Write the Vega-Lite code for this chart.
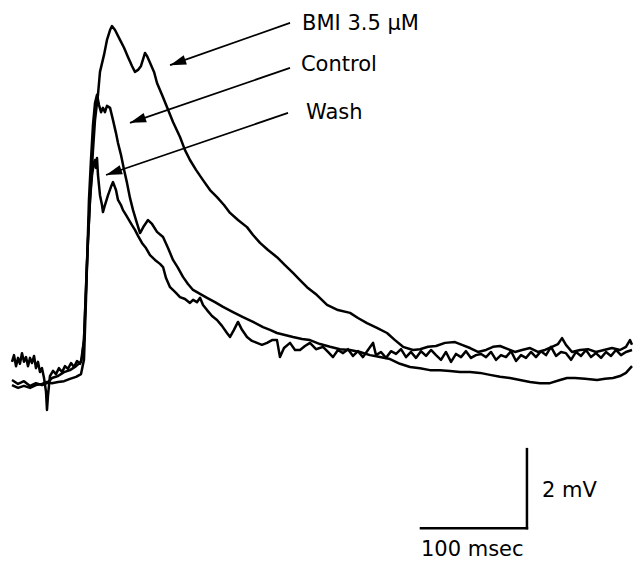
{
  "$schema": "https://vega.github.io/schema/vega-lite/v6.json",
  "width": 634,
  "height": 561,
  "padding": 0,
  "autosize": {"type": "none"},
  "config": {"view": {"stroke": null}},
  "datasets": {
    "bmi": [
      [0,0],[5.7,-0.10],[11.3,-0.03],[17.0,-0.15],[22.6,-0.08],[28.3,-0.13],[33.0,-0.08],[37.7,0.05],[43.4,0.10],[49.1,0.20],[54.7,0.25],[60.4,0.35],[65.1,0.46],[67.9,1.01],[70.8,3.04],[73.6,4.56],[76.4,5.82],[78.3,6.58],[81.1,7.22],[83.0,7.80],[86.8,8.23],[89.6,8.61],[92.5,8.86],[94.3,8.96],[97.2,8.86],[101.9,8.61],[105.7,8.41],[109.4,8.18],[113.2,7.95],[116.0,7.80],[118.9,7.85],[121.7,7.95],[125.5,8.28],[127.4,8.20],[130.2,8.03],[134.0,7.80],[136.8,7.52],[141.5,7.22],[146.2,6.91],[151.9,6.53],[158.5,6.15],[163.2,5.82],[167.9,5.57],[173.6,5.32],[180.2,5.06],[186.8,4.81],[193.4,4.63],[200.0,4.43],[205.7,4.23],[213.2,4.05],[221.7,3.87],[227.4,3.67],[234.0,3.47],[241.5,3.29],[250.0,3.11],[257.5,2.91],[265.1,2.71],[271.7,2.53],[278.3,2.35],[287.7,2.15],[297.2,1.90],[307.5,1.77],[318.9,1.70],[326.4,1.57],[334.9,1.44],[344.3,1.32],[353.8,1.19],[361.3,1.01],[368.9,0.84],[378.3,0.76],[384.9,0.78],[392.5,0.84],[400.0,0.86],[408.5,0.94],[417.9,0.96],[424.5,0.89],[432.1,0.81],[439.6,0.71],[447.2,0.76],[453.8,0.84],[460.4,0.86],[467.9,0.78],[474.5,0.71],[481.1,0.76],[488.7,0.81],[496.2,0.71],[502.8,0.76],[509.4,0.84],[515.1,0.91],[518.9,1.06],[522.6,0.89],[528.3,0.71],[535.9,0.76],[543.4,0.78],[550.9,0.71],[558.5,0.76],[566.0,0.81],[573.6,0.76],[579.2,0.84],[583.0,1.01],[584.9,0.89]
    ],
    "control": [
      [0,-0.13],[5.7,-0.20],[11.3,-0.15],[17.0,-0.20],[22.6,-0.13],[28.3,-0.10],[33.0,-0.05],[37.7,-0.08],[43.4,-0.05],[49.1,-0.03],[54.7,0.03],[60.4,0.08],[65.1,0.15],[67.9,0.51],[69.8,2.03],[72.6,4.56],[74.5,5.57],[76.4,6.46],[78.3,7.01],[80.2,7.22],[82.1,6.96],[84.0,6.78],[85.8,6.89],[87.7,6.78],[89.6,6.94],[92.5,6.89],[95.3,6.58],[98.1,6.25],[100.0,6.00],[102.8,5.70],[105.7,5.32],[108.5,4.99],[111.3,4.61],[114.2,4.30],[117.0,4.05],[120.8,3.72],[124.5,3.90],[128.3,4.05],[132.1,3.95],[136.8,3.75],[142.5,3.62],[147.2,3.34],[151.9,3.04],[156.6,2.84],[161.3,2.61],[166.0,2.43],[170.8,2.28],[177.4,2.18],[184.0,2.08],[191.5,1.97],[199.1,1.85],[208.5,1.72],[217.9,1.59],[227.4,1.47],[236.8,1.34],[243.4,1.27],[250.0,1.19],[257.5,1.14],[265.1,1.09],[273.6,1.04],[281.1,1.01],[290.6,0.91],[300.0,0.84],[309.4,0.78],[318.9,0.76],[328.3,0.71],[337.7,0.63],[347.2,0.58],[356.6,0.53],[366.0,0.41],[375.5,0.33],[384.9,0.30],[394.3,0.25],[403.8,0.25],[413.2,0.23],[422.6,0.20],[432.1,0.20],[441.5,0.18],[450.9,0.13],[460.4,0.08],[469.8,0.05],[479.2,0],[488.7,-0.05],[498.1,-0.08],[507.5,-0.08],[517.0,0],[523.6,0.05],[531.1,0.05],[540.6,0.03],[551.9,0],[559.4,0.03],[567.0,0.05],[573.6,0.10],[579.2,0.18],[584.9,0.35]
    ],
    "wash": [
      [0,0.46],[1.9,0.63],[3.8,0.35],[5.7,0.56],[7.5,0.41],[9.4,0.68],[11.3,0.46],[13.2,0.58],[15.1,0.35],[17.0,0.56],[18.9,0.43],[20.8,0.61],[22.6,0.30],[24.5,0.46],[26.4,0.20],[28.3,0.30],[30.2,0.05],[32.1,-0.30],[33.0,-0.76],[34.0,-0.38],[35.8,0.10],[38.7,0.23],[41.5,0.15],[44.3,0.30],[47.2,0.20],[50.0,0.35],[52.8,0.28],[55.7,0.43],[58.5,0.33],[61.3,0.48],[64.2,0.41],[66.0,0.56],[67.9,1.01],[69.8,2.28],[71.7,3.54],[73.6,4.56],[75.5,5.19],[77.4,5.52],[78.3,5.57],[79.2,5.37],[80.2,5.62],[81.1,5.19],[83.0,4.68],[84.9,4.43],[85.8,4.25],[87.7,4.43],[90.6,4.68],[93.4,4.89],[95.3,5.01],[98.1,4.81],[100.0,4.56],[102.8,4.43],[104.7,4.30],[107.5,4.18],[110.4,4.05],[113.2,3.92],[116.0,3.80],[118.9,3.65],[122.6,3.47],[126.4,3.34],[130.2,3.16],[134.9,3.04],[139.6,2.94],[142.5,2.86],[145.3,2.58],[149.1,2.35],[153.8,2.23],[158.5,2.10],[163.2,2.05],[167.9,1.95],[170.8,2.03],[174.5,1.97],[177.4,2.08],[180.2,1.90],[184.0,1.77],[188.7,1.62],[193.4,1.52],[198.1,1.37],[202.8,1.19],[205.7,1.09],[209.4,1.27],[213.2,1.47],[217.0,1.27],[221.7,1.09],[226.4,0.99],[231.1,0.94],[235.8,0.89],[240.6,0.94],[245.3,1.01],[250.0,1.01],[252.8,0.58],[256.6,0.81],[262.3,0.94],[267.0,0.76],[271.7,0.76],[276.4,0.86],[281.1,0.94],[286.8,0.78],[293.4,0.84],[298.1,0.71],[302.8,0.58],[307.5,0.76],[312.3,0.68],[317.0,0.78],[321.7,0.61],[326.4,0.73],[331.1,0.58],[335.8,0.76],[340.6,0.94],[343.4,0.63],[348.1,0.71],[352.8,0.56],[357.5,0.73],[362.3,0.66],[367.0,0.78],[371.7,0.58],[376.4,0.71],[381.1,0.56],[385.8,0.73],[390.6,0.61],[395.3,0.76],[400.0,0.63],[404.7,0.51],[409.4,0.71],[414.2,0.46],[418.9,0.66],[423.6,0.58],[428.3,0.73],[433.0,0.56],[437.7,0.63],[442.5,0.66],[447.2,0.58],[451.9,0.71],[456.6,0.51],[461.3,0.63],[466.0,0.58],[470.8,0.73],[475.5,0.48],[480.2,0.63],[484.9,0.56],[489.6,0.71],[494.3,0.58],[499.1,0.73],[503.8,0.63],[508.5,0.84],[513.2,0.61],[517.9,0.71],[522.6,0.68],[527.4,0.51],[532.1,0.71],[536.8,0.61],[541.5,0.76],[546.2,0.58],[550.9,0.68],[555.7,0.56],[560.4,0.71],[565.1,0.61],[569.8,0.76],[574.5,0.63],[579.2,0.71],[584.9,0.76]
    ],
    "arrows": [
      {"label": "BMI 3.5 μM", "t1": 262.3, "v1": 9.04, "t2": 149.1, "v2": 7.97, "lt": 273.6, "lv": 8.86},
      {"label": "Control", "t1": 262.3, "v1": 7.90, "t2": 111.3, "v2": 6.51, "lt": 272.6, "lv": 7.81},
      {"label": "Wash", "t1": 260.4, "v1": 6.76, "t2": 88.7, "v2": 5.19, "lt": 277.4, "lv": 6.61}
    ],
    "scalebar": [
      {"t1": 385.8, "t2": 485.8, "v1": -3.75, "v2": -3.75},
      {"t1": 485.8, "t2": 485.8, "v1": -3.75, "v2": -1.75}
    ],
    "scalelabels": [
      {"text": "2 mV", "t": 500.0, "v": -2.95},
      {"text": "100 msec", "t": 385.8, "v": -4.46}
    ]
  },
  "resolve": {"scale": {"x": "shared", "y": "shared"}},
  "layer": [
    {
      "data": {"name": "bmi"},
      "transform": [{"calculate": "datum[0]", "as": "t"}, {"calculate": "datum[1]", "as": "v"}],
      "mark": {"type": "line", "color": "black", "strokeWidth": 2.5, "strokeJoin": "round"},
      "encoding": {
        "x": {"field": "t", "type": "quantitative", "scale": {"domain": [-11.32, 586.79], "nice": false, "zero": false}, "axis": null},
        "y": {"field": "v", "type": "quantitative", "scale": {"domain": [-4.582, 9.620], "nice": false, "zero": false}, "axis": null}
      }
    },
    {
      "data": {"name": "control"},
      "transform": [{"calculate": "datum[0]", "as": "t"}, {"calculate": "datum[1]", "as": "v"}],
      "mark": {"type": "line", "color": "black", "strokeWidth": 2.5, "strokeJoin": "round"},
      "encoding": {
        "x": {"field": "t", "type": "quantitative", "scale": {"domain": [-11.32, 586.79], "nice": false, "zero": false}, "axis": null},
        "y": {"field": "v", "type": "quantitative", "scale": {"domain": [-4.582, 9.620], "nice": false, "zero": false}, "axis": null}
      }
    },
    {
      "data": {"name": "wash"},
      "transform": [{"calculate": "datum[0]", "as": "t"}, {"calculate": "datum[1]", "as": "v"}],
      "mark": {"type": "line", "color": "black", "strokeWidth": 2.5, "strokeJoin": "round"},
      "encoding": {
        "x": {"field": "t", "type": "quantitative", "scale": {"domain": [-11.32, 586.79], "nice": false, "zero": false}, "axis": null},
        "y": {"field": "v", "type": "quantitative", "scale": {"domain": [-4.582, 9.620], "nice": false, "zero": false}, "axis": null}
      }
    },
    {
      "data": {"name": "arrows"},
      "mark": {"type": "rule", "color": "black", "strokeWidth": 1.8},
      "encoding": {
        "x": {"field": "t1", "type": "quantitative", "scale": {"domain": [-11.32, 586.79], "nice": false, "zero": false}, "axis": null},
        "y": {"field": "v1", "type": "quantitative", "scale": {"domain": [-4.582, 9.620], "nice": false, "zero": false}, "axis": null},
        "x2": {"field": "t2"},
        "y2": {"field": "v2"}
      }
    },
    {
      "data": {"name": "arrows"},
      "mark": {"type": "point", "shape": "M0,0L0.6,2L-0.6,2Z", "filled": true, "color": "black", "opacity": 1, "size": 260, "angle": 251},
      "encoding": {
        "x": {"field": "t2", "type": "quantitative", "scale": {"domain": [-11.32, 586.79], "nice": false, "zero": false}, "axis": null},
        "y": {"field": "v2", "type": "quantitative", "scale": {"domain": [-4.582, 9.620], "nice": false, "zero": false}, "axis": null}
      }
    },
    {
      "data": {"name": "arrows"},
      "mark": {"type": "text", "align": "left", "baseline": "alphabetic", "font": "DejaVu Sans", "fontSize": 21, "color": "black"},
      "encoding": {
        "x": {"field": "lt", "type": "quantitative", "scale": {"domain": [-11.32, 586.79], "nice": false, "zero": false}, "axis": null},
        "y": {"field": "lv", "type": "quantitative", "scale": {"domain": [-4.582, 9.620], "nice": false, "zero": false}, "axis": null},
        "text": {"field": "label"}
      }
    },
    {
      "data": {"name": "scalebar"},
      "mark": {"type": "rule", "color": "black", "strokeWidth": 2.5, "strokeCap": "square"},
      "encoding": {
        "x": {"field": "t1", "type": "quantitative", "scale": {"domain": [-11.32, 586.79], "nice": false, "zero": false}, "axis": null},
        "y": {"field": "v1", "type": "quantitative", "scale": {"domain": [-4.582, 9.620], "nice": false, "zero": false}, "axis": null},
        "x2": {"field": "t2"},
        "y2": {"field": "v2"}
      }
    },
    {
      "data": {"name": "scalelabels"},
      "mark": {"type": "text", "align": "left", "baseline": "alphabetic", "font": "DejaVu Sans", "fontSize": 21, "color": "black"},
      "encoding": {
        "x": {"field": "t", "type": "quantitative", "scale": {"domain": [-11.32, 586.79], "nice": false, "zero": false}, "axis": null},
        "y": {"field": "v", "type": "quantitative", "scale": {"domain": [-4.582, 9.620], "nice": false, "zero": false}, "axis": null},
        "text": {"field": "text"}
      }
    }
  ]
}
